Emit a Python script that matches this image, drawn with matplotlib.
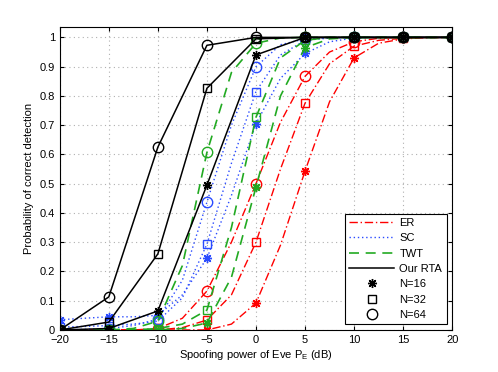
import numpy as np
import matplotlib.pyplot as plt
from matplotlib.lines import Line2D

plt.rcParams['font.family'] = ['Liberation Sans', 'DejaVu Sans']

# spoofing power of Eve (dB), simulation points (markers)
snr = [-20, -15, -10, -5, 0, 5, 10, 15, 20]
# finer grid the analytic curves are read at
snr_fine = [-20, -17.5, -15, -12.5, -10, -7.5, -5, -2.5, 0, 2.5, 5, 7.5, 10, 12.5, 15, 17.5, 20]

# ER scheme: markers
er_16 = [0, 0, 0, 0.0, 0.092, 0.543, 0.93, 0.995, 1]
er_32 = [0, 0, 0, 0.034, 0.30, 0.775, 0.97, 0.997, 1]
er_64 = [0, 0, 0.005, 0.133, 0.50, 0.867, 0.985, 1, 1]
# ER scheme: curves
er_16_c = [0, 0, 0, 0, 0, 0, 0.0, 0.02, 0.092, 0.29, 0.543, 0.78, 0.93, 0.98, 0.995, 0.999, 1]
er_32_c = [0, 0, 0, 0, 0, 0.008, 0.034, 0.12, 0.30, 0.55, 0.775, 0.91, 0.97, 0.99, 0.997, 1, 1]
er_64_c = [0, 0, 0, 0, 0.005, 0.04, 0.133, 0.30, 0.50, 0.71, 0.867, 0.95, 0.985, 0.997, 1, 1, 1]

# SC scheme
sc_16 = [0.035, 0.045, 0.05, 0.245, 0.705, 0.945, 0.998, 1, 1]
sc_32 = [0.01, 0.015, 0.03, 0.293, 0.815, 0.99, 1, 1, 1]
sc_64 = [0, 0.005, 0.037, 0.437, 0.90, 0.995, 1, 1, 1]
sc_16_c = [0.035, 0.04, 0.045, 0.045, 0.05, 0.12, 0.245, 0.46, 0.705, 0.86, 0.945, 0.985, 0.998, 1, 1, 1, 1]
sc_32_c = [0.01, 0.012, 0.015, 0.02, 0.03, 0.11, 0.293, 0.57, 0.815, 0.94, 0.99, 0.998, 1, 1, 1, 1, 1]
sc_64_c = [0, 0.002, 0.005, 0.015, 0.037, 0.17, 0.437, 0.70, 0.90, 0.975, 0.995, 1, 1, 1, 1, 1, 1]

# TWT scheme
twt_16 = [0, 0, 0, 0.024, 0.488, 0.965, 1, 1, 1]
twt_32 = [0, 0, 0.005, 0.068, 0.727, 0.99, 1, 1, 1]
twt_64 = [0, 0, 0.03, 0.607, 0.98, 1, 1, 1, 1]
twt_16_c = [0, 0, 0, 0, 0, 0.005, 0.024, 0.18, 0.488, 0.80, 0.965, 0.995, 1, 1, 1, 1, 1]
twt_32_c = [0, 0, 0, 0, 0.005, 0.02, 0.068, 0.35, 0.727, 0.93, 0.99, 1, 1, 1, 1, 1, 1]
twt_64_c = [0, 0, 0, 0.005, 0.03, 0.22, 0.607, 0.88, 0.98, 0.998, 1, 1, 1, 1, 1, 1, 1]

# our RTA
rta_16 = [0, 0.005, 0.065, 0.495, 0.94, 1, 1, 1, 1]
rta_32 = [0, 0.027, 0.26, 0.826, 0.995, 1, 1, 1, 1]
rta_64 = [0, 0.113, 0.625, 0.973, 1, 1, 1, 1, 1]

red = '#ff0000'
blue = '#2a4bff'
green = '#22aa22'
star = (8, 2, 0)
mk = {16: dict(marker=star, ms=6.5), 32: dict(marker='s', ms=6), 64: dict(marker='o', ms=7.5)}

ls_er = (0, (6, 2, 1, 2))
ls_sc = (0, (1, 2))
ls_twt = (0, (6, 4))

fig = plt.figure(figsize=(4.98, 3.72), dpi=100)
ax = fig.add_axes([0.12, 0.113, 0.788, 0.814])

schemes = [
    (red, ls_er, 1.0, snr_fine, {16: (er_16_c, er_16), 32: (er_32_c, er_32), 64: (er_64_c, er_64)}),
    (blue, ls_sc, 1.0, snr_fine, {16: (sc_16_c, sc_16), 32: (sc_32_c, sc_32), 64: (sc_64_c, sc_64)}),
    (green, ls_twt, 1.2, snr_fine, {16: (twt_16_c, twt_16), 32: (twt_32_c, twt_32), 64: (twt_64_c, twt_64)}),
    ('k', '-', 1.1, snr, {16: (rta_16, rta_16), 32: (rta_32, rta_32), 64: (rta_64, rta_64)}),
]
for color, ls, lw, xs, series in schemes:
    for n, (curve, pts) in series.items():
        ax.plot(xs, curve, color=color, linestyle=ls, linewidth=lw)
        ax.plot(snr, pts, linestyle='none', markerfacecolor='none',
                markeredgecolor=color, markeredgewidth=1.0, **mk[n])

ax.set_xlim(-20, 20)
ax.set_ylim(0, 1.035)
ax.set_xticks(np.arange(-20, 21, 5))
ax.set_yticks(np.arange(0, 1.01, 0.1))
ax.set_yticklabels(['0', '0.1', '0.2', '0.3', '0.4', '0.5', '0.6', '0.7', '0.8', '0.9', '1'])
ax.tick_params(direction='in', top=True, right=True, labelsize=8, length=3)
ax.grid(True, color='#b0b0b0', linestyle=(0, (1, 3)), linewidth=0.8)
for s in ax.spines.values():
    s.set_linewidth(0.8)
ax.set_xlabel('Spoofing power of Eve P$_\\mathregular{E}$ (dB)', fontsize=8, labelpad=2)
ax.set_ylabel('Probability of correct detection', fontsize=8, labelpad=4)

handles = [
    Line2D([], [], color=red, linestyle=ls_er, lw=1.0, label='ER'),
    Line2D([], [], color=blue, linestyle=ls_sc, lw=1.0, label='SC'),
    Line2D([], [], color=green, linestyle=ls_twt, lw=1.2, label='TWT'),
    Line2D([], [], color='k', lw=1.1, label='Our RTA'),
    Line2D([], [], color='k', ls='none', marker=star, ms=6.5, mew=1.0, label='N=16'),
    Line2D([], [], color='k', ls='none', marker='s', ms=6, mfc='none', mew=1.0, label='N=32'),
    Line2D([], [], color='k', ls='none', marker='o', ms=7.5, mfc='none', mew=1.0, label='N=64'),
]
leg = ax.legend(handles=handles, loc='lower right', fontsize=8, fancybox=False,
                edgecolor='k', framealpha=1, borderaxespad=0.5, handlelength=4.0,
                labelspacing=0.48, borderpad=0.4, handletextpad=0.5)
leg.get_frame().set_linewidth(0.8)

fig.savefig('out.png', dpi=100)
